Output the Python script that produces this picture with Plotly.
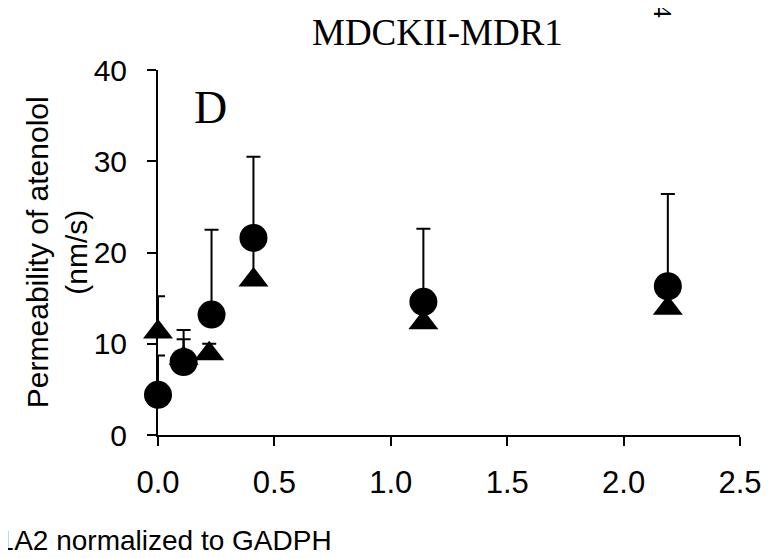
import plotly.graph_objects as go

# Data
x_circle = [0.0, 0.11, 0.23, 0.41, 1.14, 2.19]
y_circle = [4.4, 8.0, 13.2, 21.6, 14.6, 16.3]
err_circle = [4.3, 3.5, 9.3, 8.9, 8.0, 10.1]

x_triangle = [0.0, 0.11, 0.22, 0.41, 1.14, 2.19]
y_triangle = [11.3, 8.4, 8.9, 17.0, 12.3, 13.9]
err_triangle = [3.9, 2.1, 1.1, 4.0, 1.5, 2.0]

x_ticks = [0.0, 0.5, 1.0, 1.5, 2.0, 2.5]
y_ticks = [0, 10, 20, 30, 40]

title_text = "MDCKII-MDR1"
panel_label = "D"
y_title = "Permeability of atenolol<br>(nm/s)"
x_title = "CYP1A2 normalized to GADPH"

SANS = "Arial, Liberation Sans, sans-serif"
SERIF = "Times New Roman, Liberation Serif, serif"

fig = go.Figure()

fig.add_trace(go.Scatter(
    x=x_triangle, y=y_triangle, mode="markers",
    marker=dict(symbol="triangle-up", size=26, color="black"),
    error_y=dict(type="data", symmetric=False, array=err_triangle,
                 arrayminus=[0] * len(err_triangle),
                 color="black", thickness=2, width=7),
    cliponaxis=False, showlegend=False,
))

fig.add_trace(go.Scatter(
    x=x_circle, y=y_circle, mode="markers",
    marker=dict(symbol="circle", size=28, color="black"),
    error_y=dict(type="data", symmetric=False, array=err_circle,
                 arrayminus=[0] * len(err_circle),
                 color="black", thickness=2, width=7),
    cliponaxis=False, showlegend=False,
))

fig.update_xaxes(
    range=[0, 2.5], tickvals=x_ticks, tickformat=".1f",
    showline=True, linecolor="black", linewidth=2,
    ticks="outside", ticklen=9, tickwidth=2, tickcolor="black",
    showgrid=False, zeroline=False, ticklabelstandoff=10,
    tickfont=dict(family=SANS, size=31, color="black"),
)
fig.update_yaxes(
    range=[0, 40], tickvals=y_ticks,
    showline=True, linecolor="black", linewidth=2,
    ticks="outside", ticklen=9, tickwidth=2, tickcolor="black",
    showgrid=False, zeroline=False, ticklabelstandoff=14,
    tickfont=dict(family=SANS, size=30, color="black"),
)

fig.update_layout(
    width=765, height=550,
    margin=dict(l=150, r=33, t=62, b=123),
    paper_bgcolor="white", plot_bgcolor="white",
    annotations=[
        dict(text=title_text, xref="paper", yref="paper", x=0.481, y=1.104,
             xanchor="center", yanchor="middle", showarrow=False,
             font=dict(family=SERIF, size=37, color="black")),
        dict(text=panel_label, xref="paper", yref="paper", x=0.091, y=0.896,
             xanchor="center", yanchor="middle", showarrow=False,
             font=dict(family=SERIF, size=46, color="black")),
        dict(text=y_title, xref="paper", yref="paper", x=-0.1735, y=0.501,
             xanchor="center", yanchor="middle", showarrow=False, textangle=-90,
             font=dict(family=SANS, size=30, color="black")),
        dict(text=x_title, xref="paper", yref="paper", x=0.303, y=-0.288,
             xanchor="right", yanchor="middle", showarrow=False,
             font=dict(family=SANS, size=28, color="black")),
        dict(text="4", xref="paper", yref="paper", x=0.866, y=1.162,
             xanchor="center", yanchor="middle", showarrow=False, textangle=90,
             font=dict(family=SERIF, size=26, color="black")),
    ],
)

fig.write_html("out.html")
